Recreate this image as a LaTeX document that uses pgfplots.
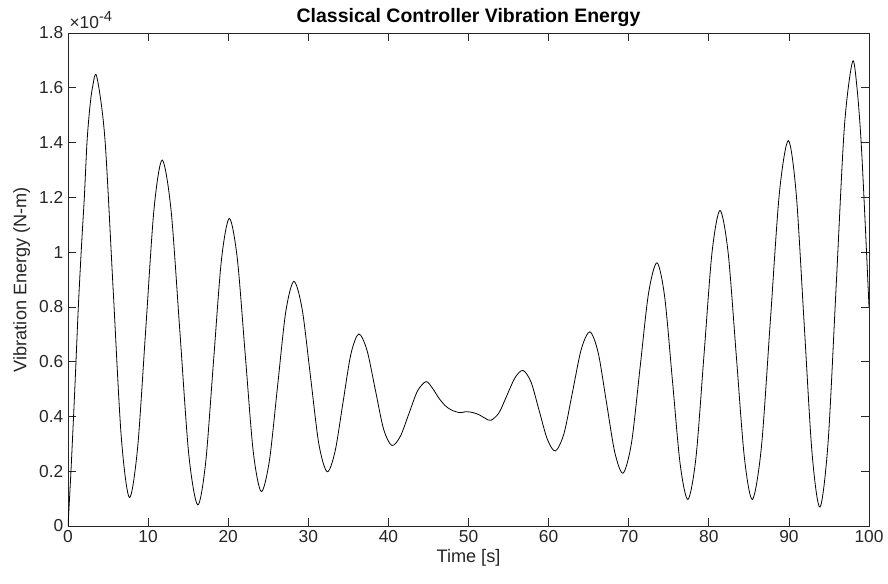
\documentclass[border=0pt]{standalone}
\usepackage{fontspec}
\setmainfont{Liberation Sans}
\usepackage{pgfplots}
\pgfplotsset{compat=1.18}
\definecolor{axgray}{rgb}{0.15,0.15,0.15}
\begin{document}
\begin{tikzpicture}
\useasboundingbox (-51pt,-43.5pt) rectangle (615pt,394.5pt);
\begin{axis}[
  at={(0,0)}, anchor=south west,
  scale only axis,
  width=600.75pt, height=369.75pt,
  xmin=0, xmax=100, ymin=0, ymax=1.8,
  xtick={0,10,...,100},
  ytick={0,0.2,0.4,0.6,0.8,1,1.2,1.4,1.6,1.8},
  yticklabels={0,0.2,0.4,0.6,0.8,1,1.2,1.4,1.6,1.8},
  tick align=inside, tick pos=both,
  major tick length=6pt,
  minor tick num=0,
  axis line style={axgray, line width=0.5pt},
  every tick/.style={axgray, line width=0.5pt},
  /pgf/number format/assume math mode=true,
  tick label style={font=\fontsize{13}{15}\selectfont, text=axgray},
  xlabel={Time [s]},
  ylabel={Vibration Energy (N-m)},
  label style={font=\fontsize{13.6}{15}\selectfont, text=axgray},
  xlabel style={yshift=2pt},
  title={Classical Controller Vibration Energy},
  title style={font=\bfseries\fontsize{14.6}{16}\selectfont, yshift=-5pt},
  clip mode=individual,
]
\addplot[black, line width=0.6pt, smooth] coordinates {
(0,0) (0.37,0.2) (0.85,0.5) (1.29,0.8) (1.7,1.03) (2.04,1.2) (2.37,1.4) (2.7,1.52) (3.05,1.6) (3.58,1.642)
(4.60,1.417) (5.62,0.873) (6.64,0.329) (7.66,0.104)
(8.685,0.284) (9.71,0.720) (10.735,1.156) (11.76,1.336)
(12.87,1.152) (13.975,0.7065) (15.08,0.261) (16.19,0.077)
(17.18,0.230) (18.165,0.600) (19.15,0.970) (20.14,1.123)
(21.135,0.977) (22.13,0.6245) (23.125,0.272) (24.12,0.126)
(25.14,0.238) (26.16,0.5095) (27.18,0.781) (28.2,0.893)
(29.2375,0.791) (30.275,0.5455) (31.3125,0.300) (32.35,0.198)
(33.3375,0.272) (34.325,0.4495) (35.3125,0.627) (36.3,0.701)
(37.3325,0.641) (38.365,0.4975) (39.3975,0.354) (40.43,0.294)
(41.4975,0.328) (42.565,0.4105) (43.6325,0.493) (44.7,0.527)
(45.5,0.503) (46.3,0.467) (47.1,0.439) (47.9,0.423) (48.9,0.414) (49.6,0.417) (50.2,0.416) (50.8,0.412) (51.4,0.405) (52.1,0.393) (52.8,0.386)
(53.8,0.413) (54.8,0.477) (55.8,0.541) (56.8,0.568)
(57.8125,0.525) (58.825,0.421) (59.8375,0.317) (60.85,0.274)
(61.925,0.338) (63.0,0.4915) (64.075,0.645) (65.15,0.709)
(66.1875,0.633) (67.225,0.451) (68.2625,0.269) (69.3,0.193)
(70.3575,0.305) (71.415,0.577) (72.4725,0.849) (73.53,0.961)
(74.4975,0.835) (75.465,0.529) (76.4325,0.224) (77.4,0.097)
(78.4,0.251) (79.4,0.6245) (80.4,0.998) (81.4,1.152)
(82.4125,0.998) (83.425,0.6245) (84.4375,0.251) (85.45,0.097)
(86.57,0.289) (87.69,0.752) (88.81,1.215) (89.93,1.407)
(90.9175,1.211) (91.905,0.738) (92.8925,0.265) (93.88,0.069)
(94.895,0.307) (95.91,0.882) (96.925,1.457) (97.94,1.695)
(98.5,1.60) (99.0,1.41) (99.5,1.12) (100,0.80)
};
\node[anchor=south west, inner sep=0pt, font=\fontsize{13}{15}\selectfont, text=axgray] at (rel axis cs:0,1) [xshift=1pt, yshift=3pt] {×10\raisebox{0.75ex}{\fontsize{11}{13}\selectfont -4}};
\end{axis}
\end{tikzpicture}
\end{document}
